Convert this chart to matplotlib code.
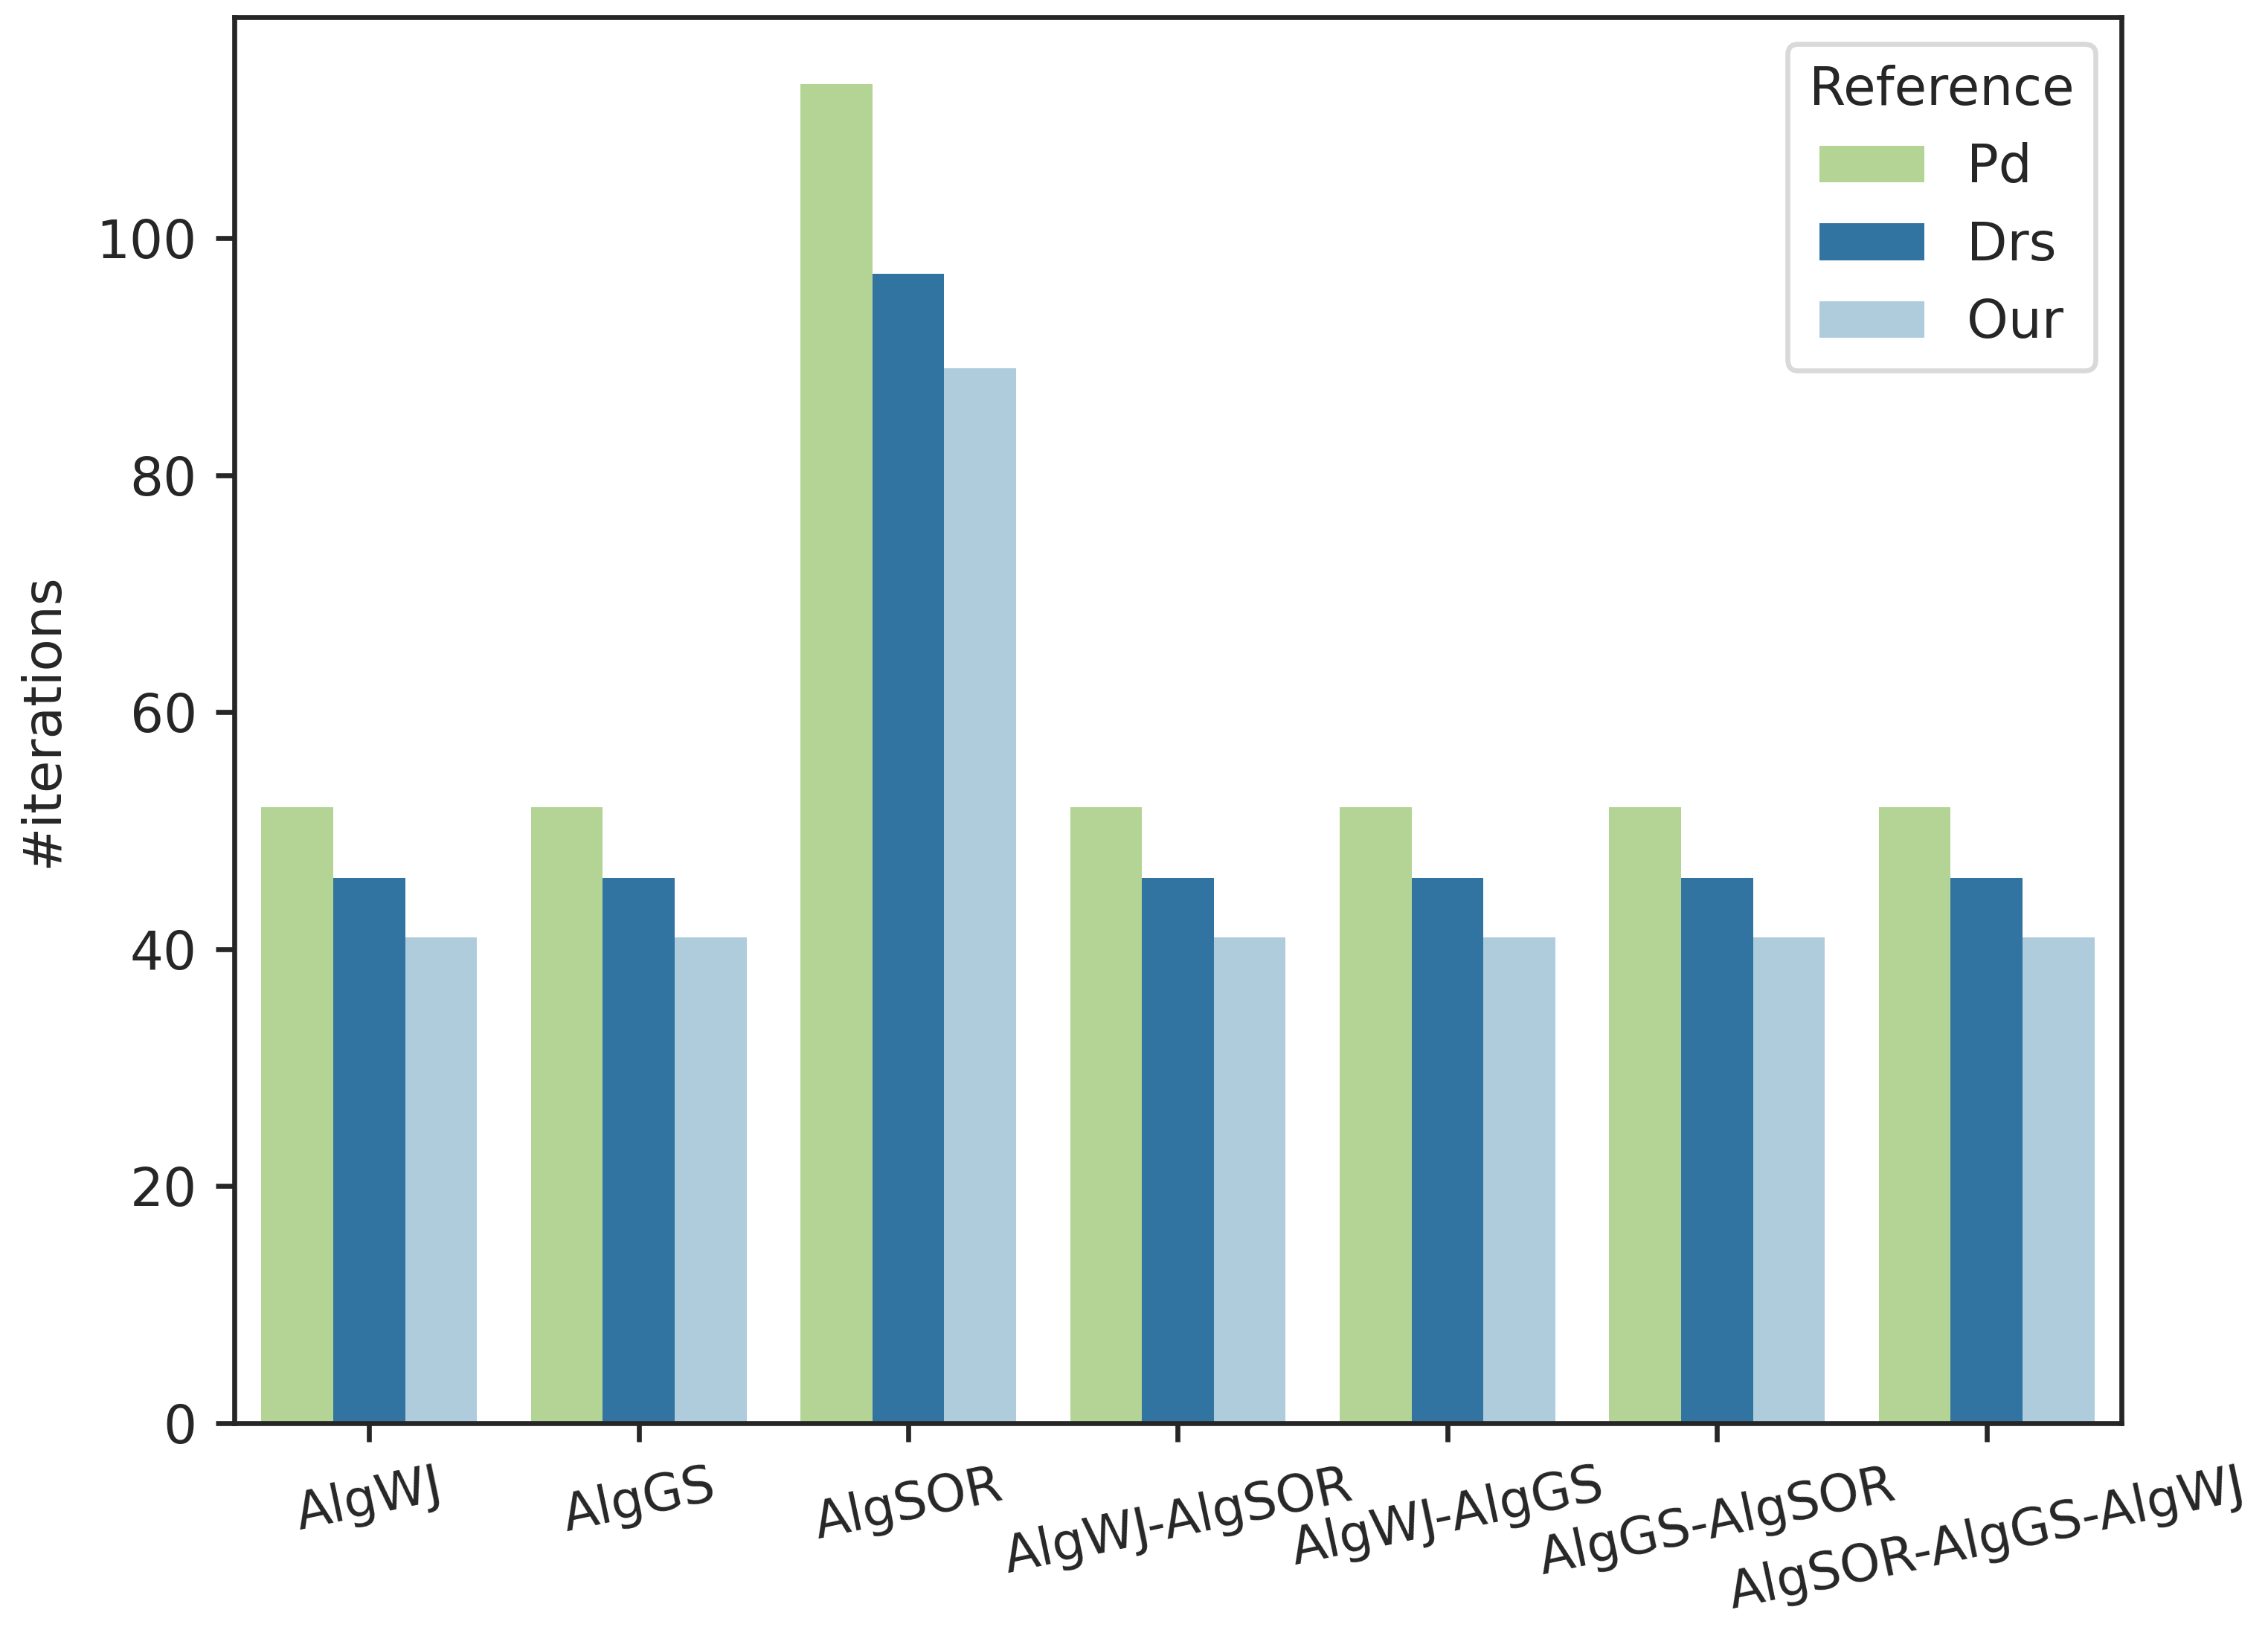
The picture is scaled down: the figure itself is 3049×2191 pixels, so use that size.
import matplotlib
matplotlib.use('Agg')
from matplotlib import pyplot as plt
import pandas as pd
import seaborn as sns

# values
methods = ['AlgWJ', 'AlgGS', 'AlgSOR', 'AlgWJ-AlgSOR', 'AlgWJ-AlgGS',
           'AlgGS-AlgSOR', 'AlgSOR-AlgGS-AlgWJ']
references = ['Pd', 'Drs', 'Our']
pd_iters = [52, 52, 113, 52, 52, 52, 52]
drs_iters = [46, 46, 97, 46, 46, 46, 46]
our_iters = [41, 41, 89, 41, 41, 41, 41]
colors = ['#b2df8a', '#1f78b4', '#a6cee3']


def build_frame():
    rows = []
    for ref, vals in zip(references, [pd_iters, drs_iters, our_iters]):
        for m, v in zip(methods, vals):
            rows.append({'method': m, 'Reference': ref, 'iterations': v})
    return pd.DataFrame(rows)


def plot_iterations():
    sns.set_style('ticks')
    plt.rcParams['font.family'] = ['DejaVu Sans']
    df = build_frame()

    fig = plt.figure(figsize=(3049 / 300, 2191 / 300), dpi=300)
    ax = fig.add_axes([0.1033, 0.1269, 0.9354 - 0.1033, 0.9894 - 0.1269])
    sns.barplot(data=df, x='method', y='iterations', hue='Reference',
                order=methods, hue_order=references, palette=colors,
                linewidth=0, ax=ax)

    ax.set_xlabel('')
    ax.set_ylabel('#iterations', size=17, color='#262626', labelpad=9)
    ax.set_xlim(-0.5, len(methods) - 0.5)
    ax.set_ylim(0, 113 * 1.05)
    ax.set_yticks([0, 20, 40, 60, 80, 100])
    ax.tick_params(axis='both', length=6, width=1.6, pad=6, colors='#262626')
    ax.tick_params(axis='y', labelsize=17)
    ax.tick_params(axis='x', labelsize=16.6)
    plt.setp(ax.get_xticklabels(), rotation=12, ha='center')
    for sp in ax.spines.values():
        sp.set_linewidth(1.6)
        sp.set_color('#262626')

    leg = ax.legend(title='Reference', loc='upper right', fontsize=17,
                    title_fontsize=17, frameon=True, fancybox=True)
    leg.get_frame().set_edgecolor('#d9d9d9')
    leg.get_frame().set_linewidth(1.6)
    leg.get_frame().set_alpha(1)

    fig.savefig('out.png', dpi=300)


if __name__ == '__main__':
    plot_iterations()
